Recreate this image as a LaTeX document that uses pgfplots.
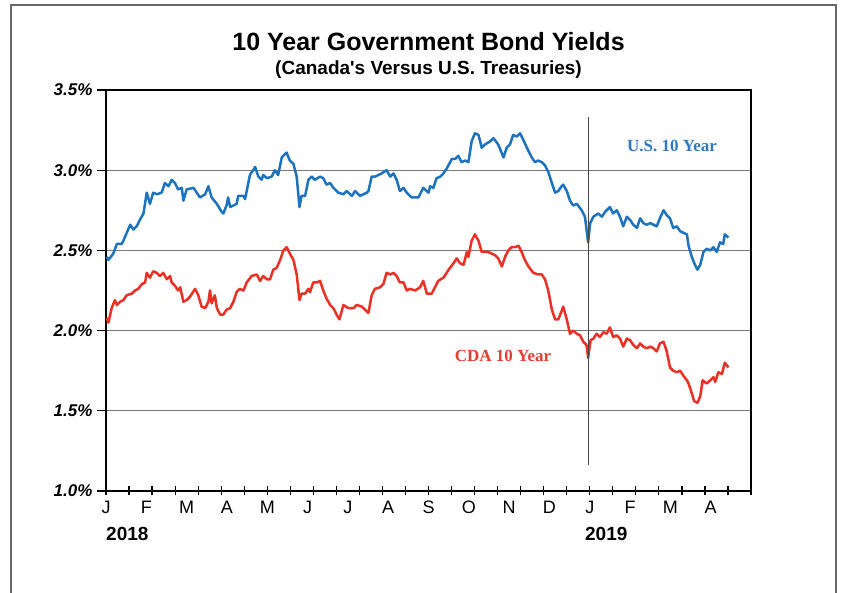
\documentclass[border=0pt]{standalone}
\usepackage{pgfplots}
\pgfplotsset{compat=1.18}
\usepackage{fontspec}
\setmainfont{Liberation Sans}
\newfontfamily\timesfont{Liberation Serif}
\definecolor{usblue}{RGB}{30,115,190}
\definecolor{cdared}{RGB}{235,48,38}
\definecolor{uslab}{RGB}{50,120,192}
\definecolor{cdalab}{RGB}{232,62,50}
\definecolor{framegray}{RGB}{105,105,105}
\begin{document}
\begin{tikzpicture}[x=1pt,y=1pt]
\path[use as bounding box, fill=white] (0pt,0pt) rectangle (842pt,593pt);
\draw[line width=2pt, framegray] (11pt,-5pt) -- (11pt,588pt) -- (836pt,588pt) -- (836pt,-5pt);
\node[font=\fontsize{25}{30}\selectfont\bfseries] at (428.5pt,551pt) {10 Year Government Bond Yields};
\node[font=\fontsize{19}{23}\selectfont\bfseries] at (428.5pt,523pt) {(Canada\textquotesingle s Versus U.S. Treasuries)};
\begin{axis}[
  at={(106pt,102pt)}, anchor=south west,
  scale only axis, width=645pt, height=401pt,
  xmin=0, xmax=16, ymin=1.0, ymax=3.5,
  clip=false,
  axis line style={line width=2.2pt, black},
  tick align=outside,
  xtick pos=bottom, ytick pos=left,
  major tick length=9pt,
  tick style={line width=1.2pt, black},
  x tick style={yshift=4.5pt},
  ytick={1,1.5,2,2.5,3,3.5},
  yticklabels={1.0\%,1.5\%,2.0\%,2.5\%,3.0\%,3.5\%},
  yticklabel style={font=\fontsize{17}{20}\selectfont\bfseries\itshape, xshift=-1pt},
  ymajorgrids,
  grid style={line width=1.2pt, color={rgb,255:red,120;green,120;blue,120}},
  xtick={0,0.5714,1.1429,1.7143,2.2857,2.8571,3.4286,4,4.5714,5.1429,5.7143,6.2857,6.8571,7.4286,8,8.5714,9.1429,9.7143,10.2857,10.8571,11.4286,12,12.5714,13.1429,13.7143,14.2857,14.8571,15.4286,16},
  xticklabels={},
  extra x ticks={0,1,2,3,4,5,6,7,8,9,10,11,12,13,14,15},
  extra x tick labels={J,F,M,A,M,J,J,A,S,O,N,D,J,F,M,A},
  extra x tick style={major tick length=0pt, xticklabel style={font=\fontsize{18}{20}\selectfont, text height=13pt, text depth=0pt, yshift=-6pt}},
]
\addplot[usblue, line width=2.5pt, line join=round, mark=none] coordinates {
(0.02,2.46)(0.06,2.44)(0.18,2.48)(0.27,2.54)(0.39,2.54)(0.43,2.56)(0.60,2.66)(0.68,2.63)(0.76,2.65)(0.84,2.69)(0.93,2.73)(1.01,2.86)(1.09,2.79)(1.17,2.86)(1.26,2.85)(1.38,2.86)(1.46,2.92)(1.55,2.90)(1.63,2.94)(1.71,2.92)(1.79,2.88)(1.88,2.89)(1.92,2.81)(2.00,2.88)(2.17,2.89)(2.25,2.86)(2.33,2.83)(2.46,2.85)(2.54,2.90)(2.62,2.83)(2.75,2.79)(2.87,2.74)(2.91,2.73)(2.99,2.78)(3.03,2.83)(3.08,2.77)(3.24,2.79)(3.28,2.84)(3.41,2.84)(3.45,2.82)(3.57,2.97)(3.70,3.02)(3.78,2.96)(3.86,2.94)(3.90,2.97)(3.99,2.95)(4.11,2.96)(4.19,3.00)(4.27,2.97)(4.36,3.08)(4.48,3.11)(4.56,3.06)(4.65,3.04)(4.73,2.96)(4.80,2.77)(4.85,2.84)(4.94,2.84)(5.02,2.94)(5.10,2.96)(5.18,2.94)(5.31,2.96)(5.39,2.95)(5.47,2.91)(5.56,2.92)(5.64,2.89)(5.76,2.86)(5.89,2.85)(5.97,2.87)(6.10,2.84)(6.18,2.87)(6.30,2.84)(6.47,2.86)(6.51,2.87)(6.59,2.96)(6.67,2.96)(6.76,2.97)(6.84,2.98)(6.96,3.00)(7.05,2.96)(7.13,2.98)(7.21,2.94)(7.29,2.87)(7.38,2.89)(7.46,2.86)(7.58,2.83)(7.75,2.83)(7.87,2.89)(8.00,2.86)(8.04,2.90)(8.12,2.89)(8.20,2.95)(8.29,2.96)(8.37,2.98)(8.45,3.01)(8.58,3.07)(8.66,3.07)(8.74,3.09)(8.82,3.05)(8.91,3.06)(8.99,3.05)(9.07,3.18)(9.15,3.23)(9.24,3.22)(9.32,3.14)(9.40,3.16)(9.53,3.18)(9.61,3.20)(9.73,3.16)(9.86,3.08)(9.94,3.14)(10.02,3.16)(10.10,3.22)(10.19,3.21)(10.27,3.23)(10.35,3.19)(10.44,3.14)(10.56,3.08)(10.64,3.05)(10.72,3.06)(10.81,3.05)(10.89,3.03)(10.97,2.99)(11.06,2.92)(11.14,2.86)(11.22,2.87)(11.30,2.90)(11.34,2.91)(11.43,2.87)(11.51,2.81)(11.59,2.78)(11.68,2.79)(11.74,2.77)(11.80,2.75)(11.88,2.71)(11.96,2.55)(12.01,2.67)(12.09,2.71)(12.21,2.73)(12.30,2.71)(12.38,2.74)(12.50,2.77)(12.58,2.73)(12.67,2.75)(12.75,2.71)(12.83,2.65)(12.92,2.71)(13.00,2.69)(13.08,2.66)(13.17,2.64)(13.25,2.70)(13.33,2.67)(13.41,2.66)(13.50,2.67)(13.58,2.66)(13.66,2.65)(13.74,2.70)(13.83,2.75)(13.91,2.72)(13.99,2.70)(14.07,2.64)(14.16,2.65)(14.24,2.62)(14.32,2.61)(14.41,2.60)(14.45,2.53)(14.53,2.46)(14.61,2.41)(14.67,2.38)(14.74,2.41)(14.82,2.49)(14.90,2.51)(14.99,2.50)(15.07,2.52)(15.15,2.49)(15.23,2.55)(15.31,2.54)(15.35,2.60)(15.44,2.58)
};
\addplot[cdared, line width=2.5pt, line join=round, mark=none] coordinates {
(0.02,2.08)(0.06,2.05)(0.14,2.14)(0.22,2.19)(0.27,2.16)(0.35,2.18)(0.43,2.19)(0.51,2.22)(0.64,2.23)(0.72,2.25)(0.80,2.26)(0.89,2.29)(0.97,2.30)(1.01,2.36)(1.09,2.33)(1.17,2.37)(1.26,2.36)(1.34,2.34)(1.42,2.36)(1.51,2.32)(1.59,2.34)(1.63,2.30)(1.71,2.28)(1.79,2.25)(1.84,2.27)(1.92,2.18)(2.00,2.19)(2.08,2.21)(2.21,2.26)(2.29,2.22)(2.37,2.15)(2.46,2.14)(2.54,2.18)(2.58,2.25)(2.62,2.17)(2.70,2.22)(2.75,2.14)(2.83,2.10)(2.91,2.10)(2.99,2.13)(3.08,2.14)(3.16,2.18)(3.24,2.24)(3.32,2.26)(3.41,2.25)(3.49,2.30)(3.61,2.34)(3.74,2.35)(3.82,2.31)(3.90,2.34)(3.99,2.32)(4.07,2.32)(4.15,2.38)(4.23,2.39)(4.32,2.44)(4.40,2.50)(4.48,2.52)(4.56,2.48)(4.65,2.44)(4.73,2.35)(4.80,2.19)(4.85,2.23)(4.94,2.23)(5.02,2.26)(5.06,2.24)(5.14,2.30)(5.23,2.30)(5.31,2.31)(5.39,2.25)(5.47,2.20)(5.56,2.16)(5.64,2.14)(5.72,2.10)(5.79,2.07)(5.89,2.16)(6.01,2.14)(6.14,2.14)(6.22,2.16)(6.34,2.15)(6.43,2.13)(6.51,2.11)(6.59,2.22)(6.67,2.26)(6.80,2.27)(6.88,2.29)(6.96,2.36)(7.05,2.35)(7.13,2.36)(7.21,2.34)(7.29,2.30)(7.38,2.30)(7.46,2.25)(7.54,2.26)(7.67,2.25)(7.79,2.27)(7.87,2.31)(7.96,2.23)(8.08,2.23)(8.16,2.27)(8.24,2.31)(8.37,2.33)(8.45,2.36)(8.53,2.39)(8.62,2.42)(8.70,2.45)(8.78,2.42)(8.87,2.41)(8.95,2.49)(8.99,2.46)(9.07,2.56)(9.15,2.60)(9.24,2.56)(9.32,2.49)(9.40,2.49)(9.48,2.49)(9.57,2.48)(9.65,2.47)(9.73,2.45)(9.82,2.40)(9.90,2.46)(9.98,2.50)(10.06,2.52)(10.15,2.52)(10.23,2.53)(10.31,2.49)(10.39,2.44)(10.48,2.40)(10.60,2.36)(10.72,2.35)(10.81,2.35)(10.89,2.32)(10.97,2.25)(11.06,2.13)(11.14,2.07)(11.22,2.07)(11.30,2.12)(11.34,2.15)(11.43,2.07)(11.51,1.98)(11.59,2.00)(11.68,1.98)(11.76,1.97)(11.84,1.93)(11.92,1.91)(11.96,1.83)(12.02,1.94)(12.09,1.95)(12.17,1.98)(12.25,1.96)(12.34,1.99)(12.42,1.98)(12.50,2.02)(12.58,1.96)(12.67,1.97)(12.75,1.95)(12.83,1.90)(12.92,1.95)(13.00,1.94)(13.08,1.91)(13.17,1.89)(13.25,1.92)(13.33,1.90)(13.41,1.89)(13.50,1.90)(13.58,1.89)(13.66,1.87)(13.74,1.92)(13.83,1.93)(13.91,1.87)(13.99,1.77)(14.07,1.75)(14.16,1.74)(14.24,1.75)(14.32,1.72)(14.41,1.69)(14.45,1.67)(14.53,1.61)(14.59,1.56)(14.67,1.55)(14.74,1.59)(14.80,1.69)(14.90,1.67)(14.99,1.69)(15.07,1.71)(15.11,1.68)(15.19,1.74)(15.28,1.73)(15.35,1.80)(15.44,1.77)
};
\draw[line width=1pt, color={rgb,255:red,70;green,70;blue,70}] (axis cs:11.98,1.16) -- (axis cs:11.98,3.33);
\node[font=\timesfont\fontsize{17}{20}\selectfont\bfseries, text=uslab] at (axis cs:14.04,3.151) {U.S. 10 Year};
\node[font=\timesfont\fontsize{17}{20}\selectfont\bfseries, text=cdalab] at (axis cs:9.85,1.842) {CDA 10 Year};
\node[anchor=north west, inner sep=0pt, font=\fontsize{19}{22}\selectfont\bfseries] at (axis cs:0,1.0) [yshift=-36pt] {2018};
\node[anchor=north west, inner sep=0pt, font=\fontsize{19}{22}\selectfont\bfseries] at (axis cs:11.88,1.0) [yshift=-36pt] {2019};
\end{axis}
\end{tikzpicture}
\end{document}
